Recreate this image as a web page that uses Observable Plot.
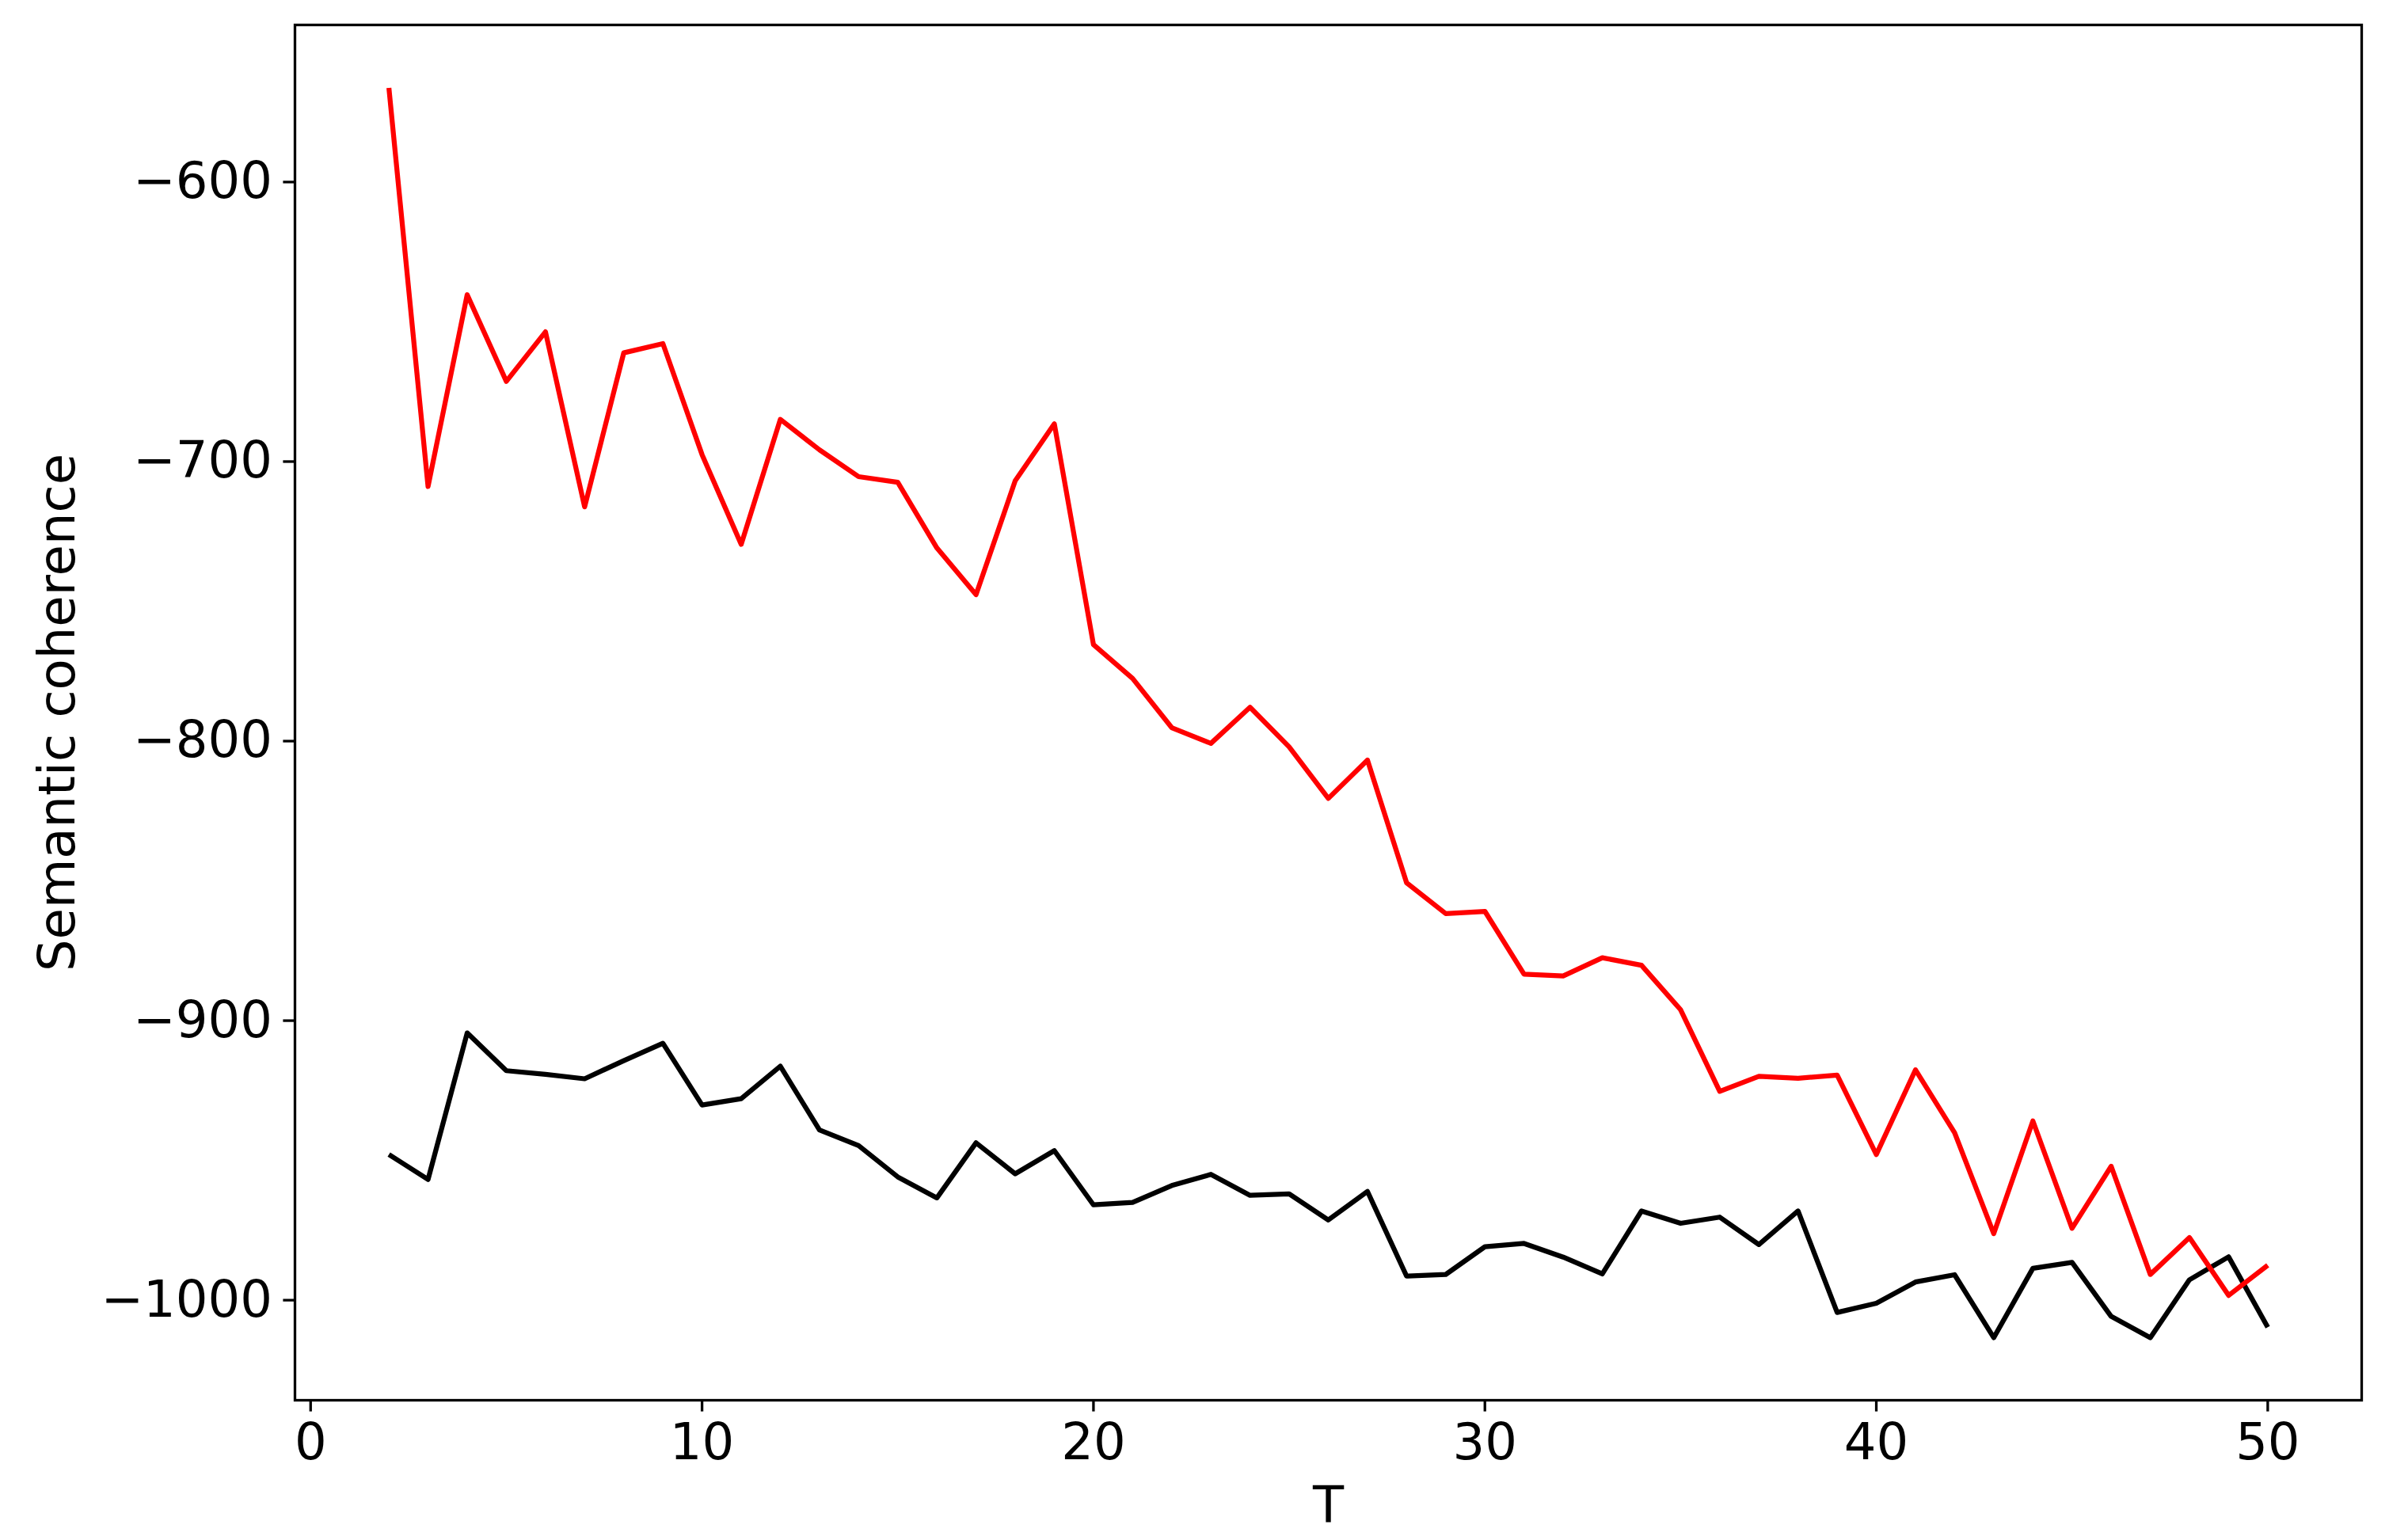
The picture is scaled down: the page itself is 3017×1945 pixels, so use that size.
<!DOCTYPE html>
<html>
<head>
<meta charset="utf-8">
<script src="https://cdn.jsdelivr.net/npm/d3@7"></script>
<script src="https://cdn.jsdelivr.net/npm/@observablehq/plot@0.6"></script>
<style>
  html, body { margin: 0; padding: 0; background: #fff; }
  #chart { width: 3017px; height: 1945px; }
</style>
</head>
<body>
<div id="chart"></div>
<script>
// T values
const T = [2,3,4,5,6,7,8,9,10,11,12,13,14,15,16,17,18,19,20,21,22,23,24,25,26,
           27,28,29,30,31,32,33,34,35,36,37,38,39,40,41,42,43,44,45,46,47,48,49,50];

// red series
const redSeries = [-566.3,-708.9,-640.3,-671.3,-653.6,-716.2,-661.1,-657.8,-697.5,-729.6,
  -684.9,-695.8,-705.4,-707.4,-730.9,-747.6,-706.9,-686.5,-765.5,-777.6,
  -795.2,-800.8,-787.9,-802.1,-820.5,-806.8,-850.7,-861.7,-860.9,-883.4,
  -884.0,-877.5,-880.2,-896.1,-925.3,-919.9,-920.6,-919.5,-947.9,-917.6,
  -940.1,-976.2,-935.9,-974.3,-952.1,-990.8,-977.6,-998.3,-987.5];

// black series
const blackSeries = [-947.9,-956.8,-904.4,-917.9,-919.2,-920.8,-914.3,-908.1,-930.2,-927.9,
  -916.3,-939.1,-944.7,-955.9,-963.4,-943.7,-954.8,-946.5,-965.9,-965.0,
  -959.0,-955.0,-962.5,-962.0,-971.3,-961.1,-991.4,-990.8,-980.9,-979.7,
  -984.6,-990.6,-968.1,-972.5,-970.3,-980.1,-968.1,-1004.4,-1001.1,-993.5,
  -990.9,-1013.4,-988.6,-986.5,-1005.8,-1013.4,-992.7,-984.5,-1009.7];

// ticks and labels
const xTicks = [0, 10, 20, 30, 40, 50];
const yTicks = [-1000, -900, -800, -700, -600];
const xLabel = "T";
const yLabel = "Semantic coherence";

const redData = T.map((t, i) => ({t, v: redSeries[i]}));
const blackData = T.map((t, i) => ({t, v: blackSeries[i]}));

const fmt = d3.format("d");
const FONT = "DejaVu Sans";
const FS = 64;
const TICK = 14.6;

const chart = Plot.plot({
  width: 3017,
  height: 1945,
  marginLeft: 372,
  marginRight: 35,
  marginTop: 31,
  marginBottom: 177,
  style: { fontFamily: FONT, background: "#fff", color: "#000" },
  x: { domain: [-0.4, 52.4] },
  y: { domain: [-1035.8, -543.8] },
  marks: [
    Plot.line(blackData, { x: "t", y: "v", stroke: "black", strokeWidth: 6.25,
      strokeLinejoin: "round", strokeLinecap: "butt" }),
    Plot.line(redData, { x: "t", y: "v", stroke: "red", strokeWidth: 6.25,
      strokeLinejoin: "round", strokeLinecap: "butt" }),
    Plot.frame({ stroke: "black", strokeWidth: 3.3 }),
    Plot.axisX(xTicks, { tickSize: TICK, tickPadding: 14, strokeWidth: 3.3,
      fontSize: FS, tickFormat: fmt, label: null }),
    Plot.axisY(yTicks, { tickSize: TICK, tickPadding: 14, strokeWidth: 3.3,
      fontSize: FS, tickFormat: fmt, label: null }),
    Plot.text([yLabel], { text: d => d, frameAnchor: "left", textAnchor: "middle",
      dx: -299, rotate: -90, fontSize: FS, fill: "black" }),
    Plot.text([xLabel], { text: d => d, frameAnchor: "bottom", dy: 154,
      fontSize: FS, fill: "black" })
  ]
});
document.getElementById("chart").appendChild(chart);
</script>
</body>
</html>
